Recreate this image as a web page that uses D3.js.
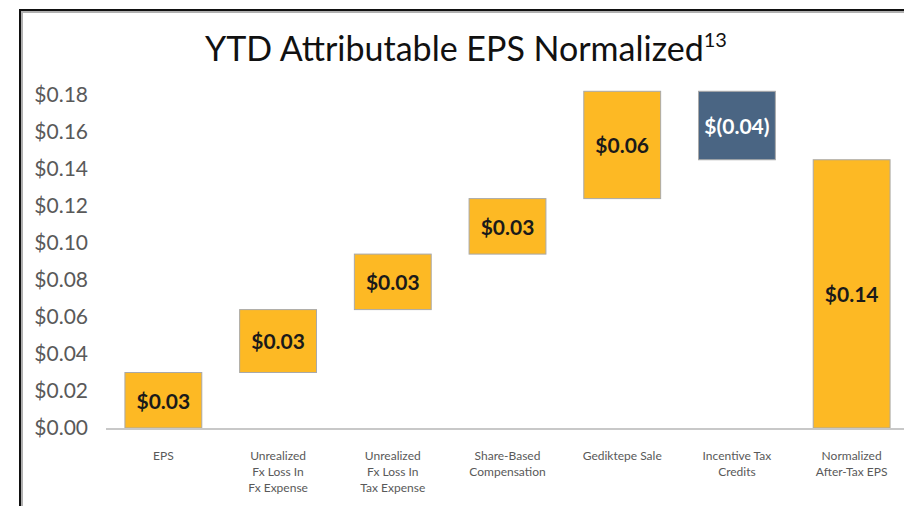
<!DOCTYPE html>
<html>
<head>
<meta charset="utf-8">
<script src="https://cdn.jsdelivr.net/npm/d3@7"></script>
<style>
  body { margin: 0; background: #fff; }
  svg { display: block; font-family: Lato, "Open Sans", sans-serif; }
</style>
</head>
<body>
<div id="chart"></div>
<script>
// waterfall data
var categories = [
  ["EPS"],
  ["Unrealized", "Fx Loss In", "Fx Expense"],
  ["Unrealized", "Fx Loss In", "Tax Expense"],
  ["Share-Based", "Compensation"],
  ["Gediktepe Sale"],
  ["Incentive Tax", "Credits"],
  ["Normalized", "After-Tax EPS"]
];
var changes = [0.030, 0.034, 0.030, 0.030, 0.058, -0.037];
var valueLabels = ["$0.03", "$0.03", "$0.03", "$0.03", "$0.06", "$(0.04)", "$0.14"];
var yTicks = [0, 0.02, 0.04, 0.06, 0.08, 0.10, 0.12, 0.14, 0.16, 0.18];

var svgWidth = 904;
var svgHeight = 506;

var svg = d3.select("#chart")
  .append("svg")
  .attr("width", svgWidth)
  .attr("height", svgHeight);

// frame lines (top + left)
svg.append("path")
  .attr("d", "M21,506 V11 H904")
  .attr("fill", "none")
  .attr("stroke", "#b0b0b0")
  .attr("stroke-width", 2)
  .attr("transform", "translate(1,1)");
svg.append("path")
  .attr("d", "M20,506 V10 H904")
  .attr("fill", "none")
  .attr("stroke", "#111")
  .attr("stroke-width", 2);

// build running totals
var bars = [];
var running = 0;
changes.forEach(function(c, i) {
  var start = running;
  running += c;
  bars.push({ i: i, y0: Math.min(start, running), y1: Math.max(start, running), neg: c < 0 });
});
bars.push({ i: changes.length, y0: 0, y1: running, neg: false });

var xScale = d3.scaleBand()
  .domain(d3.range(categories.length))
  .range([106, 909])
  .paddingInner(0.33)
  .paddingOuter(0.165);

var yScale = d3.scaleLinear()
  .domain([0, 0.18])
  .range([428, 95]);

// y axis labels
var leftAxis = d3.axisLeft(yScale)
  .tickValues(yTicks)
  .tickSize(0)
  .tickPadding(0)
  .tickFormat(function(d) { return "$" + d.toFixed(2); });

var yAxis = svg.append("g")
  .attr("transform", "translate(88,0)")
  .call(leftAxis);
yAxis.select(".domain").remove();
yAxis.selectAll("text")
  .attr("font-family", "Lato, sans-serif")
  .attr("font-size", "21px")
  .attr("fill", "#595959");

// bars
svg.selectAll("rect.bar")
  .data(bars)
  .enter()
  .append("rect")
  .attr("class", "bar")
  .attr("x", function(d) { return xScale(d.i); })
  .attr("width", xScale.bandwidth())
  .attr("y", function(d) { return yScale(d.y1); })
  .attr("height", function(d) { return yScale(d.y0) - yScale(d.y1); })
  .attr("fill", function(d) { return d.neg ? "#4a6583" : "#fdb924"; })
  .attr("stroke", "#a9a9a9")
  .attr("stroke-width", 1);

// baseline
svg.append("line")
  .attr("x1", 106)
  .attr("x2", 904)
  .attr("y1", yScale(0) + 1)
  .attr("y2", yScale(0) + 1)
  .attr("stroke", "#c8c8c8")
  .attr("stroke-width", 2);

// value labels
svg.selectAll("text.val")
  .data(bars)
  .enter()
  .append("text")
  .attr("class", "val")
  .attr("x", function(d) { return xScale(d.i) + xScale.bandwidth() / 2; })
  .attr("y", function(d) { return (yScale(d.y0) + yScale(d.y1)) / 2 + 1; })
  .attr("dy", "0.35em")
  .attr("text-anchor", "middle")
  .attr("font-size", "21px")
  .attr("font-weight", "bold")
  .attr("fill", function(d) { return d.neg ? "#ffffff" : "#1a1a1a"; })
  .text(function(d, i) { return valueLabels[i]; });

// category labels
var catGroup = svg.selectAll("text.cat")
  .data(categories)
  .enter()
  .append("text")
  .attr("class", "cat")
  .attr("text-anchor", "middle")
  .attr("font-size", "12px")
  .attr("fill", "#595959")
  .attr("transform", function(d, i) {
    return "translate(" + (xScale(i) + xScale.bandwidth() / 2) + ",460)";
  });
catGroup.selectAll("tspan")
  .data(function(d) { return d; })
  .enter()
  .append("tspan")
  .attr("x", 0)
  .attr("y", function(d, j) { return j * 16; })
  .text(function(d) { return d; });

// title
var title = svg.append("text")
  .attr("x", 466)
  .attr("y", 61)
  .attr("text-anchor", "middle")
  .attr("font-size", "34px")
  .attr("fill", "#111");
title.append("tspan").text("YTD Attributable EPS Normalized");
title.append("tspan")
  .attr("font-size", "20px")
  .attr("dy", "-14")
  .text("13");
</script>
</body>
</html>
